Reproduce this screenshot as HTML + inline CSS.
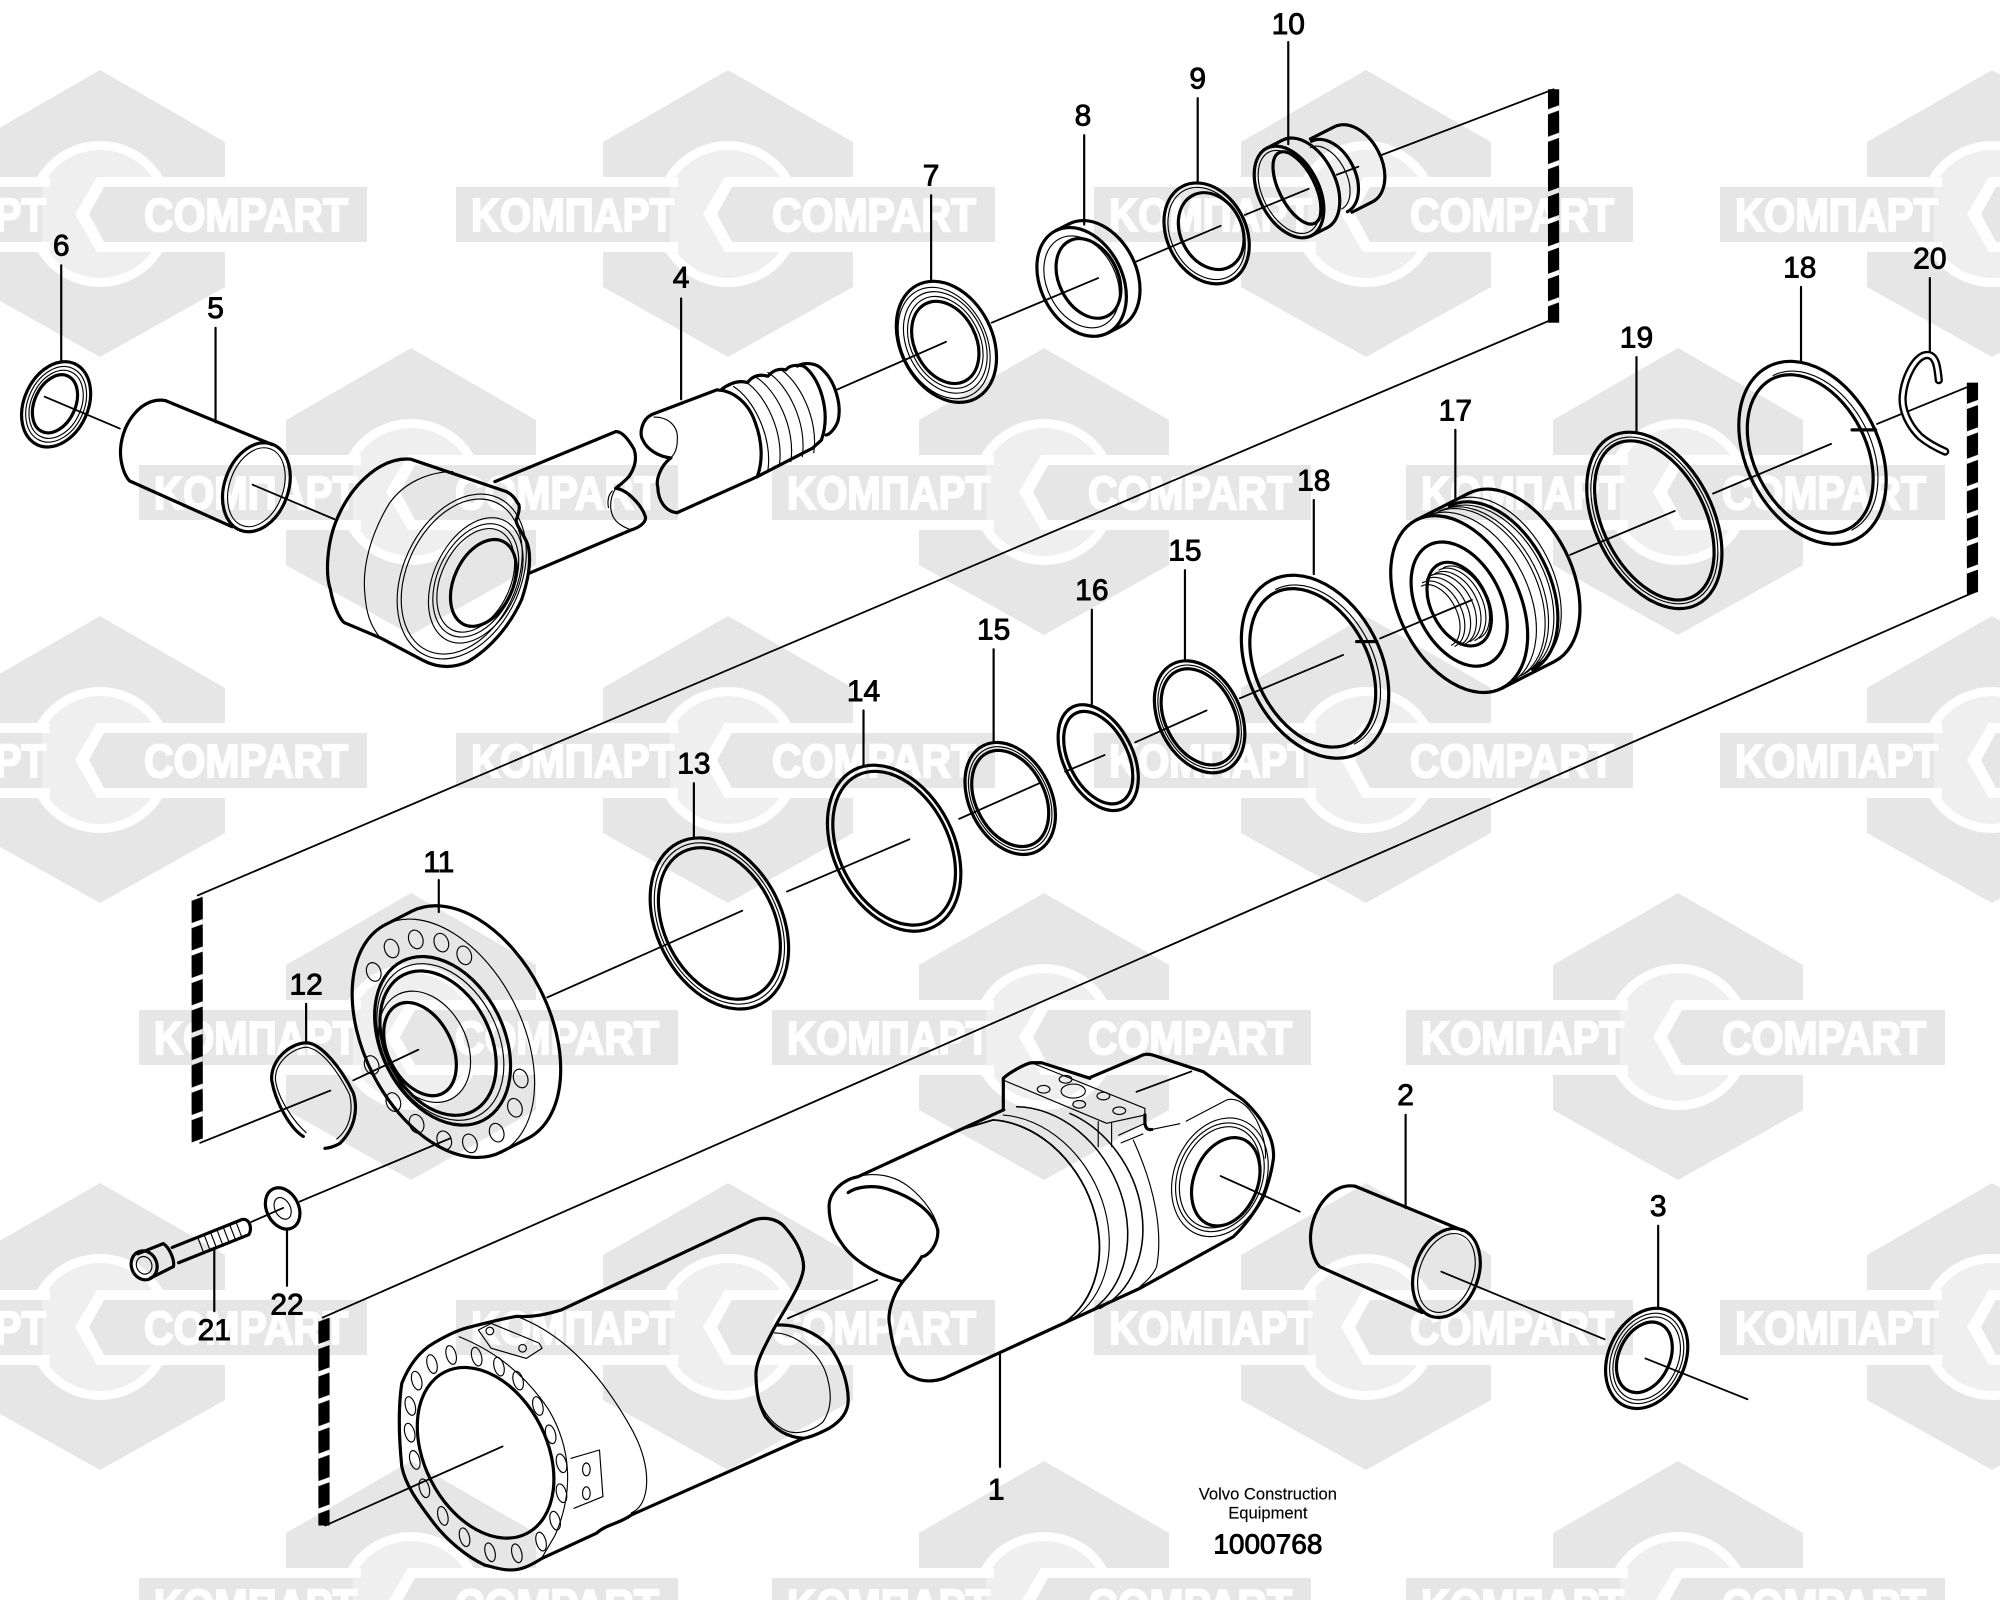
<!DOCTYPE html>
<html><head><meta charset="utf-8"><title>Cylinder parts diagram</title>
<style>
html,body{margin:0;padding:0;background:#fff;width:2000px;height:1600px;overflow:hidden}
svg{display:block;overflow:hidden}
.p *{fill:none;stroke:#000;stroke-linecap:round;stroke-linejoin:round}
.t,.t *{stroke-width:2.5}
.n,.n *{stroke-width:.9}
.a,.a *{stroke-width:1.4}
text{font-family:"Liberation Sans",sans-serif}
.lab text{font-size:23.5px;text-anchor:middle;fill:#000;stroke:#000;stroke-width:.7}
</style></head><body>
<svg width="2000" height="1600" viewBox="0 0 2000 1600" xmlns="http://www.w3.org/2000/svg">
<defs>
<g id="wm">
<polygon points="0,-144 125,-72 125,-37 -125,-37 -125,-72" fill="#e6e6e6"/>
<polygon points="0,143 125,73 125,38 -125,38 -125,73" fill="#e6e6e6"/>
<circle r="73" fill="#fff"/><circle r="64" fill="#efefef"/>
<rect x="-125" y="-37" width="75" height="10" fill="#fff"/><rect x="-125" y="28" width="75" height="10" fill="#fff"/>
<polygon points="-3,-37 -25,0 -3,38 125,38 125,-37" fill="#fff"/>
<rect x="-272" y="-27" width="214" height="55" fill="#e6e6e6"/>
<polygon points="-11,0 4,-27 267,-27 267,28 4,28" fill="#e6e6e6"/>
<text x="44" y="17" font-size="46" font-weight="700" fill="#fff" stroke="#fff" stroke-width="2" textLength="204" lengthAdjust="spacingAndGlyphs">COMPART</text>
<text x="-257" y="17" font-size="46" font-weight="700" fill="#fff" stroke="#fff" stroke-width="2" textLength="203" lengthAdjust="spacingAndGlyphs">KOMПAPT</text>
</g>
<pattern id="ds" patternUnits="userSpaceOnUse" width="8.8" height="21.5">
<polygon points="0,3.2 8.8,0 8.8,17.5 0,20.7" fill="#000"/>
</pattern>
</defs>
<rect width="2000" height="1600" fill="#fff"/>
<use href="#wm" x="100" y="214"/><use href="#wm" x="728" y="214"/><use href="#wm" x="1366" y="214"/><use href="#wm" x="1992" y="214"/>
<use href="#wm" x="411" y="492"/><use href="#wm" x="1044" y="492"/><use href="#wm" x="1678" y="492"/>
<use href="#wm" x="100" y="760"/><use href="#wm" x="728" y="760"/><use href="#wm" x="1366" y="760"/><use href="#wm" x="1992" y="760"/>
<use href="#wm" x="411" y="1037"/><use href="#wm" x="1044" y="1037"/><use href="#wm" x="1678" y="1037"/>
<use href="#wm" x="100" y="1327"/><use href="#wm" x="728" y="1327"/><use href="#wm" x="1366" y="1327"/><use href="#wm" x="1992" y="1327"/>
<use href="#wm" x="411" y="1605"/><use href="#wm" x="1044" y="1605"/><use href="#wm" x="1678" y="1605"/>

<g transform="scale(1.27551)">
<g transform="translate(150.2,703)"><rect width="8.8" height="193" fill="url(#ds)" style="stroke:none"/></g>
<g transform="translate(1213.6,65)"><rect y="5" width="8.8" height="183" fill="url(#ds)" style="stroke:none"/></g>
<g transform="translate(1542,296)"><rect y="4" width="8.8" height="168" fill="url(#ds)" style="stroke:none"/></g>
<g transform="translate(249.6,1033)"><rect width="8.8" height="163" fill="url(#ds)" style="stroke:none"/></g>
</g>

<g transform="scale(1.27551)" class="p">
<!-- frames and axes -->
<g class="a">
<path d="M1218,250 L155,702"/><path d="M1546,465 L253,1033"/>
<path d="M1083,121.6 L1218,70"/><path d="M1048,137 L1065,130.7"/><path d="M976,168.5 L1026,148"/><path d="M891,205 L957,177"/><path d="M777.5,253 L861,218"/><path d="M655,306 L741.7,268"/>
<path d="M35,311 L94,336"/><path d="M198,380 L262,407"/>
<path d="M157,896 L259,855"/><path d="M277,847 L328,823"/>
<path d="M197,958 L222,947"/><path d="M235,942 L352.8,892.5"/>
<path d="M429,782 L582,714"/><path d="M617,699 L713,658"/><path d="M752,642 L815,614"/><path d="M835,605 L866,592"/><path d="M890,582 L946,557"/><path d="M972,547.5 L1053,513.5"/><path d="M1082,500.5 L1154,470.4"/><path d="M1231,435 L1313,400.6"/><path d="M1343,387 L1435.6,348"/><path d="M1471.6,332.4 L1546,302"/>
<path d="M255,1196 L394,1134"/><path d="M617.7,1033.6 L687.7,1003.5"/><path d="M957,922 L1019,950"/><path d="M1130,997 L1258,1050"/><path d="M1290,1065 L1370,1097"/>
</g>

<!-- leaders -->
<path d="M48,208V283M169,257V331M534,234V313M730,153V220M850,106V176M939,77V144M1010,33V113M1412,225V283M1513,218V277M1283,280V338M1141,337V392M1030,392V450M929,447V518M856,478V552M779,509V582M677,557V600M544,614V657M344,690V715M240,787V817M1102,874V947M1300,961V1025M168,1028V980M225,1008V965M784,1062V1150" style="stroke-width:1.7"/>

<!-- ring 6 -->
<g transform="translate(44,317) rotate(25)"><ellipse class="t" rx="25" ry="35"/><ellipse class="n" rx="22" ry="31"/><ellipse class="n" rx="19.5" ry="28"/><ellipse class="t" cx="-1" rx="16" ry="24"/></g>
<!-- part 5 -->
<g><path class="t" d="M129.5,314 C112,311 96,330 94.5,352 C94,362 97,372 101.5,377 L182,413"/><path class="t" d="M129.5,314 L213.5,348.6"/><g transform="translate(201,382) rotate(20)"><ellipse class="t" rx="25" ry="36"/><ellipse class="n" rx="21" ry="32"/></g></g>
<!-- part 2 -->
<g transform="translate(933,616)"><path class="t" d="M129.5,314 C112,311 96,330 94.5,352 C94,362 97,372 101.5,377 L182,413"/><path class="t" d="M129.5,314 L213.5,348.6"/><g transform="translate(201,382) rotate(20)"><ellipse class="t" rx="25" ry="36"/><ellipse class="n" rx="21" ry="32"/></g></g>
<!-- ring 3 -->
<g transform="translate(1291,1065) rotate(25)"><ellipse class="t" rx="30" ry="41"/><ellipse class="n" rx="27" ry="37"/><ellipse class="n" rx="24.5" ry="34"/><ellipse class="t" cx="-2" rx="20" ry="29"/></g>

<!-- rod eye -->
<path class="t" d="M397,385.4 L322,360 C300,358 277,378 265,405 C256,425 255,450 259,462 C262,478 268,488 271,488.6 L298,500 L331,517.4 C345,525 358,523 367,518.7 C385,508 400,490 409,470 C414,455 417,440 414,428 C412,420 404,412 404.7,407.6 C407,402 408,396 406,394.6 C403,389 400,387 397,385.4Z"/>
<path class="n" d="M355,369.7 C335,370 316,379 305,395 C290,420 284,445 286,465 C287,480 290,490 298,500"/>
<g transform="translate(362,452) rotate(25)"><ellipse class="n" rx="46" ry="68"/><ellipse class="n" rx="43" ry="64"/></g>
<g transform="translate(373,455) rotate(25)"><ellipse class="n" rx="33" ry="52"/><ellipse class="n" rx="30" ry="47"/><ellipse class="n" rx="27" ry="43"/></g>
<g transform="translate(379,457) rotate(25)"><ellipse class="t" rx="23" ry="36"/></g>
<path class="t" d="M388,377.6 L482.7,338.4 C488,338 493,345 497,352 C500,360 497,368 493,373.7 C489,378 485,381 482.7,382.8 C492,384 503,396 506,405 C507,410 500,414 494.7,415.5 L415,449.4"/>
<path class="n" d="M482.7,382.8 C477,392 477,405 486,411 C490,414 494,415 494.7,415.5"/><path class="n" d="M480,385 C477,388 476,392 477,398"/>
<!-- part 4 -->
<path class="t" d="M562,305.7 L511,325 C503,329 501,340 504,345 C507,352 516,358 526,359 C518,365 514,376 515.7,382 C516,393 522,401 530.7,402 L593.7,373.7"/>
<path class="t" d="M562,305.7 C575,306 587,316 592,331 C598,347 598,362 593.7,373.7"/>
<path class="n" d="M512.7,327 C525,327 532,335 531,345 C531,352 529,356 526,359"/>
<path class="t" d="M566,305 Q577,297 586,300 Q592,292 602,295 Q608,288 616,290 Q620,285 630,287"/>
<g class="n"><path d="M575,303 C590,312 606,342 602,369"/><path transform="translate(9,-4)" d="M575,303 C590,312 606,342 602,369"/><path transform="translate(18,-7)" d="M575,303 C590,312 606,342 602,369"/><path transform="translate(27,-11)" d="M575,303 C590,312 606,342 602,369"/><path transform="translate(36,-14)" d="M575,303 C590,312 606,342 602,369"/></g>
<path class="t" d="M593.7,373.7 L637,351.4 L644,345 C652,322 642,295 630,287"/>
<path class="t" d="M625,287 C630,284 640,284 645,290 C655,299 660,318 657,330 C655,336 650,341 647.7,341"/>

<!-- ring 7 -->
<g transform="translate(742,268) rotate(-27)"><ellipse class="t" rx="36" ry="50"/><ellipse class="n" cx="-2" rx="33" ry="46"/><ellipse class="n" cx="-1" rx="30" ry="42"/><ellipse class="n" cx="-1" rx="27" ry="38"/><ellipse class="t" cx="-1" rx="24" ry="34"/></g>
<!-- ring 8 -->
<g transform="translate(848,221) rotate(-27)"><ellipse class="t" rx="32" ry="45"/><path class="t" d="M0,-45 L12,-45 A32,45 0 0 1 12,45 L0,45"/><ellipse class="n" rx="27" ry="38"/><ellipse class="t" cx="6" rx="23" ry="33"/></g>
<!-- ring 9 -->
<g transform="translate(946,183) rotate(-27)"><ellipse class="t" rx="31" ry="41.5"/><ellipse class="n" rx="28" ry="38"/><ellipse class="t" cx="4" rx="24" ry="31.5"/></g>
<!-- part 10 -->
<g transform="translate(1045,137) rotate(-27)"><path class="t" d="M-3,-33 L18,-33 A22,33 0 0 1 18,33 L0,33"/><path class="t" d="M-3,-31 A20,31 0 0 1 -3,31"/><path class="n" d="M-6,-27 A16,27 0 0 1 -6,27"/></g>
<g transform="translate(1010.6,150.5) rotate(-27)"><ellipse class="t" rx="23.5" ry="38.5"/><path class="t" d="M0,-38.5 L14,-38.5 A23.5,38.5 0 0 1 14,38.5 L0,38.5"/><ellipse class="n" rx="20.5" ry="35"/><ellipse class="t" cx="7" rx="14" ry="31"/></g>

<!-- rings middle row -->
<g transform="translate(1421,355) rotate(-27)"><ellipse class="t" rx="52" ry="76"/><ellipse class="t" cx="-2" rx="44" ry="66"/><path class="n" d="M0,-68 A46,68 0 0 1 0,68"/></g>
<path class="t" d="M1452,337 L1470.5,337"/>
<g transform="translate(1297,408) rotate(-27)"><ellipse class="t" rx="46" ry="74"/><ellipse class="n" rx="43" ry="70"/><ellipse class="t" rx="40" ry="67"/></g>
<!-- 17 -->
<g transform="translate(1144,473.6) rotate(-27)">
<ellipse class="t" rx="47" ry="74"/><path class="t" d="M0,-74 L46,-74 A47,74 0 0 1 46,74 L0,74"/>
<g class="n"><path d="M8,-73 A47,73 0 0 1 8,73"/><path d="M16,-72 A47,72 0 0 1 16,72"/><path d="M19,-72 A47,72 0 0 1 19,72"/><path d="M24,-71 A47,71 0 0 1 24,71"/></g>
<path class="t" d="M28,-72 A46,72 0 0 1 28,72"/><path class="n" d="M32,-74 A46,72 0 0 1 32,70"/>
<ellipse class="t" rx="33" ry="52"/><ellipse class="t" rx="22" ry="35"/>
<g class="n"><path d="M-14,-29 A19,29 0 0 1 -14,29"/><path d="M-10,-30 A20,30 0 0 1 -10,30"/><path d="M-6,-30 A20,30 0 0 1 -6,30"/><path d="M-2,-31 A20,31 0 0 1 -2,31"/><path d="M2,-31 A19,31 0 0 1 2,31"/><path d="M-18,-28 A18,28 0 0 1 -18,28"/><path d="M-20,-26 A16,26 0 0 1 -20,26"/></g>
</g>
<!-- 18 left -->
<g transform="translate(1031,522.7) rotate(-27)"><ellipse class="t" rx="52" ry="76"/><ellipse class="t" cx="-2" rx="44" ry="66"/><path class="n" d="M0,-68 A46,68 0 0 1 0,68"/></g>
<path class="t" d="M1063.6,503 L1079.4,503"/>
<!-- 15 right -->
<g transform="translate(940.5,562) rotate(-27)"><ellipse class="t" rx="32" ry="46.5"/><ellipse class="n" rx="29.5" ry="43"/><ellipse class="t" rx="27" ry="40"/></g>
<!-- 16 -->
<g transform="translate(861,594) rotate(-27)"><ellipse class="t" rx="27" ry="44.5"/><ellipse class="t" rx="23" ry="39"/></g>
<!-- 15 left -->
<g transform="translate(792,626) rotate(-27)"><ellipse class="t" rx="32" ry="46.5"/><ellipse class="n" rx="29.5" ry="43"/><ellipse class="t" rx="27" ry="40"/></g>
<!-- 14 -->
<g transform="translate(701,665) rotate(-27)"><ellipse class="t" rx="47" ry="69"/><ellipse class="t" rx="43" ry="64"/></g>
<!-- 13 -->
<g transform="translate(564,724) rotate(-27)"><ellipse class="t" rx="49" ry="71"/><ellipse class="n" rx="46" ry="67"/><ellipse class="t" rx="43" ry="63"/></g>

<!-- flange 11 -->
<g transform="translate(347.6,814) rotate(-27)">
<path class="t" d="M0,-100 A62,100 0 0 0 0,100"/><path class="n" d="M0,-100 A62,100 0 0 1 0,100"/>
<path class="t" d="M0,-100 L23,-100 A62,100 0 0 1 23,100 L0,100"/>
</g>
<g transform="translate(347,816) rotate(-27)"><ellipse class="t" rx="48" ry="70"/><ellipse class="n" cx="-2" rx="45" ry="65"/><ellipse class="t" cx="-4" rx="41" ry="60"/></g>
<g transform="translate(329.3,822.5) rotate(-27)"><ellipse class="n" cx="4" rx="33" ry="46"/><ellipse class="t" rx="25" ry="39"/></g>
<g class="n" style="stroke-width:1.2">
<ellipse cx="307" cy="743.6" rx="5.5" ry="7.5" transform="rotate(-20 307 743.6)"/><ellipse cx="326" cy="736.5" rx="5.5" ry="7.5" transform="rotate(-20 326 736.5)"/><ellipse cx="346" cy="739" rx="5.5" ry="7.5" transform="rotate(-20 346 739)"/><ellipse cx="364" cy="749" rx="5.5" ry="7.5" transform="rotate(-20 364 749)"/><ellipse cx="293" cy="762" rx="5.5" ry="7.5" transform="rotate(-20 293 762)"/><ellipse cx="291.4" cy="835" rx="5.5" ry="7.5" transform="rotate(-20 291.4 835)"/><ellipse cx="308.4" cy="864" rx="5.5" ry="7.5" transform="rotate(-20 308.4 864)"/><ellipse cx="326.6" cy="881" rx="5.5" ry="7.5" transform="rotate(-20 326.6 881)"/><ellipse cx="348.3" cy="894" rx="5.5" ry="7.5" transform="rotate(-20 348.3 894)"/><ellipse cx="368.4" cy="896.4" rx="5.5" ry="7.5" transform="rotate(-20 368.4 896.4)"/><ellipse cx="389.4" cy="888" rx="5.5" ry="7.5" transform="rotate(-20 389.4 888)"/><ellipse cx="403.7" cy="868.5" rx="5.5" ry="7.5" transform="rotate(-20 403.7 868.5)"/><ellipse cx="408.2" cy="845.5" rx="5.5" ry="7.5" transform="rotate(-20 408.2 845.5)"/>
</g>
<!-- snap ring 12 -->
<path class="t" d="M237.8,891 C228,885 216,865 213,846.8 C212,832 226,818 240.4,817.5 C252,818 268,838 277,857 C281,870 278,885 266.5,896.4 C262,899 258,900 254.8,900.3"/>
<path class="n" d="M240,888 C231,880 218,862 216,847 C215,834 228,822 240,821 C252,822 265,840 274,858 C277,870 275,884 264,893"/>
<!-- washer 22 -->
<g transform="translate(221.6,947.4) rotate(-27)"><ellipse class="t" rx="12.5" ry="17"/><ellipse class="n" rx="6" ry="9"/></g>
<!-- bolt 21 -->
<path class="t" d="M135,978 L190,956 C196,955 198,964 195,968 L140,990"/>
<g class="n"><path d="M155,970 L160,983"/><path d="M160,968 L165,981"/><path d="M165,966 L170,979"/><path d="M170,964 L175,977"/><path d="M175,962 L180,975"/><path d="M180,960 L185,973"/><path d="M185,958 L190,971"/></g>
<path class="t" d="M108,983 L128,975 C133,978 137,988 136,993 L118,1002"/>
<ellipse class="t" cx="113" cy="992" rx="10" ry="11.5" transform="rotate(-20 113 992)"/><ellipse class="n" cx="113" cy="992" rx="6" ry="7" transform="rotate(-20 113 992)"/>
<!-- part 20 -->
<path d="M1520,298 C1519,288 1518,278 1510.5,278.3 C1502,279 1493,295 1491.7,311 C1491,320 1495,332 1505.3,342.3 C1511,347 1518,351 1525,354" style="stroke-width:6.5"/>
<path d="M1520,298 C1519,288 1518,278 1510.5,278.3 C1502,279 1493,295 1491.7,311 C1491,320 1495,332 1505.3,342.3 C1511,347 1518,351 1525,354" style="stroke:#fff;stroke-width:2.8"/>

<!-- part 1 head -->
<path class="t" d="M786.6,869 L786.6,845.4 C790,842 803,834 808.8,833.2 L816.6,833.2 L854.5,845.4"/>
<path class="t" d="M854,845 L892,829 C897,826 900,826 905,827.5 L943.4,840.2 L974.7,862.4 C985,872 992,882 995.6,891.2 C998,897 999,905 998.2,909.5 C996,925 990,940 989,940.8 C984,950 975,962 966.9,969.6 L893.7,1010 L740,1080.6"/>
<path class="t" d="M672.7,922.5 L787,870"/>
<path class="t" d="M672.7,922.5 C660,925 650,935 650,946 C650,960 655,968 660,975 C670,990 690,1000 707.7,1004.8 C700,1015 695,1030 697.7,1040 C700,1060 708,1078 715,1079.3 C722,1083 730,1084 740,1080.6"/>
<path class="t" d="M665,935 C672,930 685,929 695,932 C715,938 732,950 735.2,964.3"/>
<path class="n" d="M672.7,922.5 C685,919 700,921 712,930 C725,940 735,955 735.2,964.3"/>
<path class="t" d="M735.2,964.3 C736,975 728,985 722.7,985.2 C718,993 712,1000 707.7,1004.8"/>
<path class="n" d="M786.6,846.8 L867.6,880.7 L897.6,874.2 L897.6,869 L808.8,833.2"/>
<path class="t" d="M897.6,874 L897.6,880 C898,885 900,886 903,885.5"/>
<path class="n" d="M903,885.5 L925,881 M930,879 L961.6,862.4 C970,860 978,866 985,878 C990,888 993,900 992,908"/>
<g class="n"><path d="M861,879.4 V899"/><path d="M871.5,880.7 V899"/><path d="M877,890 L897,881"/><path d="M879,896 L896,889"/>
<ellipse cx="835.4" cy="846.2" rx="5" ry="3"/><ellipse cx="818.2" cy="854" rx="5" ry="3"/><ellipse cx="841.4" cy="855.4" rx="9.5" ry="5.5"/><ellipse cx="846.1" cy="865.8" rx="5" ry="3"/><ellipse cx="865" cy="859.3" rx="5" ry="3"/><ellipse cx="877.5" cy="870.8" rx="5" ry="3"/></g>
<path class="a" d="M891,856 L934,840"/>
<path class="n" style="stroke-width:1.4" d="M752,886 L778.7,878 A70,88 -27 0 1 833.6,1037.5"/>
<path class="n" d="M786.6,874.2 A70,88 -27 0 1 841.4,1033.6"/>
<path class="n" style="stroke-width:1.2" d="M797,867.7 A70,88 -27 0 1 851.9,1029.7"/>
<path class="n" style="stroke-width:1.2" d="M838.8,872.9 A70,86 -27 0 1 862.3,1025.8"/>
<path class="n" d="M888.5,893.8 C905,930 912,965 906.8,993 C904,1000 898,1005 893.7,1008.8"/>
<g transform="translate(956.4,923) rotate(22)"><ellipse class="n" rx="36" ry="48"/><ellipse class="n" rx="33" ry="44"/><ellipse class="n" rx="30" ry="41"/></g>
<g transform="translate(961,926.5) rotate(22)"><ellipse class="t" rx="25" ry="36"/></g>

<!-- part 1 tube -->
<path class="t" d="M440,1027 L587.7,957.8 C598,953 610,955 616,963 C625,973 630,985 630,993 C630,1005 616,1025 607.7,1040 C597,1060 592,1070 592.7,1079 C593,1095 596,1103 600,1110.6 C607,1120 617,1127 630,1127.6 L495,1187.7 C485,1195 475,1195 467.7,1202 L425,1221.7 C415,1228 408,1231 400,1230.8 C392,1231 385,1228 380,1227 C365,1220 350,1207 340,1194 C328,1178 318,1165 315,1149.8 C313,1130 312,1105 315,1084.5 C320,1072 328,1060 340,1053 C350,1047 360,1042 370,1040 C382,1037 393,1034 405,1032 C418,1033 430,1030 440,1027"/>
<path class="t" d="M610,1038.8 C625,1038 640,1045 650,1055 C660,1068 665,1085 665,1097.6 C665,1108 658,1115 650,1119.8 C642,1124 634,1127 630,1127.6"/>
<path class="n" d="M607,1045 C622,1045 640,1058 647,1075 C653,1092 652,1105 645,1115 C637,1122 625,1125 617,1122 C605,1117 597,1105 595,1095"/>
<path class="n" d="M405,1032 C440,1045 470,1075 495,1120 C512,1150 510,1180 495,1186"/>
<path class="n" d="M360,1048 C385,1058 410,1075 430,1105 C448,1135 450,1170 435,1204 L425,1221"/>
<g transform="translate(380.7,1139) rotate(-27)"><ellipse class="t" rx="48" ry="71"/></g>
<path class="n" d="M375,1042.7 L385,1037.5 L422.7,1053 L425,1057 L412.7,1065 L385,1057 Z"/>
<circle class="n" cx="384" cy="1043.5" r="3"/><circle class="n" cx="409.7" cy="1057" r="3"/>
<path class="n" d="M447.7,1143.3 L470,1136.8 L472.7,1173.3 L450,1182.5"/>
<ellipse class="n" cx="459.7" cy="1152" rx="3" ry="5"/><ellipse class="n" cx="459.7" cy="1170.7" rx="3" ry="5"/>
<g class="n" style="stroke-width:1.7">
<ellipse cx="353.7" cy="1062.3" rx="3.8" ry="7.5" transform="rotate(-15 353.7 1062.3)"/><ellipse cx="373.7" cy="1063.6" rx="3.8" ry="7.5" transform="rotate(-15 373.7 1063.6)"/><ellipse cx="391.2" cy="1071.4" rx="3.8" ry="7.5" transform="rotate(-15 391.2 1071.4)"/><ellipse cx="406.2" cy="1082.4" rx="3.8" ry="7.5" transform="rotate(-15 406.2 1082.4)"/><ellipse cx="421.7" cy="1102.3" rx="3.8" ry="7.5" transform="rotate(-15 421.7 1102.3)"/><ellipse cx="431.7" cy="1124.5" rx="3.8" ry="7.5" transform="rotate(-15 431.7 1124.5)"/><ellipse cx="440.2" cy="1147.2" rx="3.8" ry="7.5" transform="rotate(-15 440.2 1147.2)"/><ellipse cx="440.2" cy="1170.7" rx="3.8" ry="7.5" transform="rotate(-15 440.2 1170.7)"/><ellipse cx="435.2" cy="1192.2" rx="3.8" ry="7.5" transform="rotate(-15 435.2 1192.2)"/><ellipse cx="424.2" cy="1208.6" rx="3.8" ry="7.5" transform="rotate(-15 424.2 1208.6)"/><ellipse cx="405.2" cy="1217.8" rx="3.8" ry="7.5" transform="rotate(-15 405.2 1217.8)"/><ellipse cx="384.2" cy="1217" rx="3.8" ry="7.5" transform="rotate(-15 384.2 1217)"/><ellipse cx="364.2" cy="1205.2" rx="3.8" ry="7.5" transform="rotate(-15 364.2 1205.2)"/><ellipse cx="347.2" cy="1188.5" rx="3.8" ry="7.5" transform="rotate(-15 347.2 1188.5)"/><ellipse cx="332.7" cy="1166.8" rx="3.8" ry="7.5" transform="rotate(-15 332.7 1166.8)"/><ellipse cx="325.2" cy="1144.6" rx="3.8" ry="7.5" transform="rotate(-15 325.2 1144.6)"/><ellipse cx="321.2" cy="1123.2" rx="3.8" ry="7.5" transform="rotate(-15 321.2 1123.2)"/><ellipse cx="321.7" cy="1102.3" rx="3.8" ry="7.5" transform="rotate(-15 321.7 1102.3)"/><ellipse cx="326.7" cy="1082.4" rx="3.8" ry="7.5" transform="rotate(-15 326.7 1082.4)"/><ellipse cx="338.7" cy="1069.4" rx="3.8" ry="7.5" transform="rotate(-15 338.7 1069.4)"/>
</g>
</g>

<!-- labels -->
<g transform="scale(1.27551)" class="lab">
<text x="48" y="200.5">6</text><text x="169" y="249.5">5</text><text x="534" y="225.5">4</text><text x="730" y="145.5">7</text><text x="849" y="98.5">8</text><text x="939" y="69.5">9</text><text x="1010" y="26.5">10</text><text x="1411" y="217.5">18</text><text x="1513" y="210.5">20</text><text x="1283" y="272.5">19</text><text x="1141" y="329.5">17</text><text x="1030" y="384.5">18</text><text x="929" y="439.5">15</text><text x="856" y="470.5">16</text><text x="779" y="501.5">15</text><text x="677" y="549.5">14</text><text x="544" y="606.5">13</text><text x="344" y="683.5">11</text><text x="240" y="779.5">12</text><text x="1102" y="866.5">2</text><text x="1300" y="953.5">3</text><text x="168" y="1050.5">21</text><text x="225" y="1030.5">22</text><text x="781" y="1175.5">1</text>
<text x="994" y="1175.5" style="font-size:13px;stroke-width:.1">Volvo Construction</text>
<text x="994" y="1190.5" style="font-size:13px;stroke-width:.1">Equipment</text>
<text x="994" y="1218" style="font-size:22px">1000768</text>
</g>
</svg>
</body></html>
